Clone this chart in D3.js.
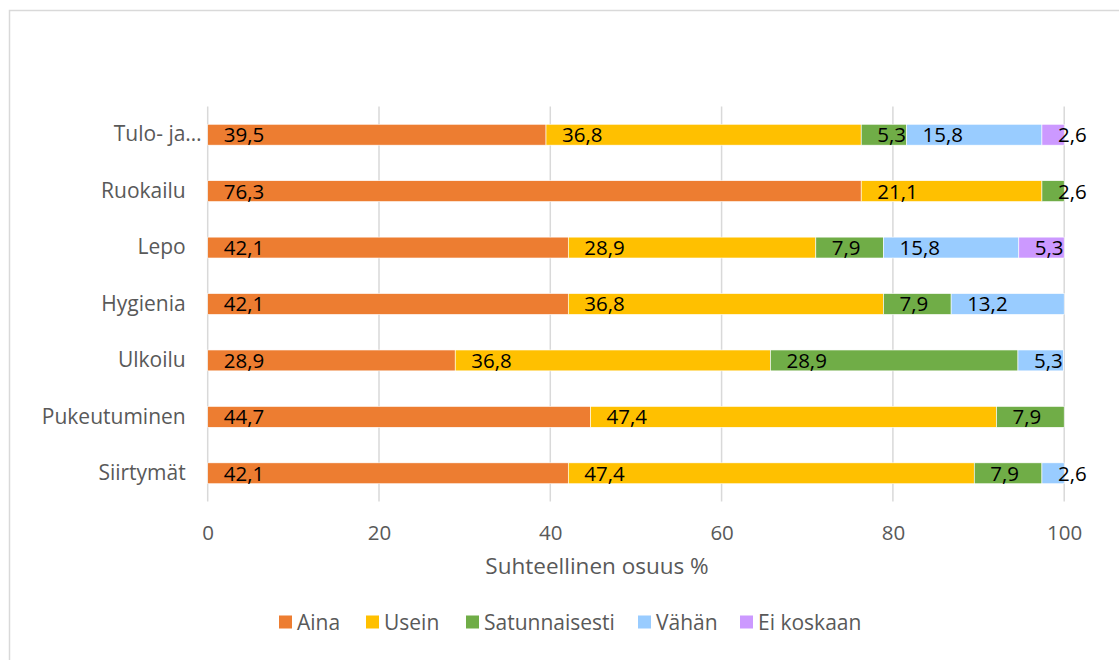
<!DOCTYPE html>
<html>
<head>
<meta charset="utf-8">
<script src="https://cdn.jsdelivr.net/npm/d3@7"></script>
<style>
  html, body { margin: 0; padding: 0; background: #fff; }
  svg { display: block; font-family: "Open Sans", "Noto Sans", sans-serif; }
</style>
</head>
<body>
<svg id="chart" width="1119" height="660"></svg>
<script>
const categories = ["Tulo- ja…", "Ruokailu", "Lepo", "Hygienia", "Ulkoilu", "Pukeutuminen", "Siirtymät"];
const seriesNames = ["Aina", "Usein", "Satunnaisesti", "Vähän", "Ei koskaan"];
const seriesColors = ["#ED7D31", "#FFC000", "#70AD47", "#99CCFF", "#CC99FF"];
const aina          = [39.5, 76.3, 42.1, 42.1, 28.9, 44.7, 42.1];
const usein         = [36.8, 21.1, 28.9, 36.8, 36.8, 47.4, 47.4];
const satunnaisesti = [5.3, 2.6, 7.9, 7.9, 28.9, 7.9, 7.9];
const vahan         = [15.8, 0, 15.8, 13.2, 5.3, 0, 2.6];
const eiKoskaan     = [2.6, 0, 5.3, 0, 0, 0, 0];
const xTicks = [0, 20, 40, 60, 80, 100];
const xTitle = "Suhteellinen osuus %";

const seriesValues = [aina, usein, satunnaisesti, vahan, eiKoskaan];
const rows = categories.map((c, i) => {
  const r = { cat: c };
  seriesNames.forEach((s, j) => r[s] = seriesValues[j][i]);
  return r;
});
const stacked = d3.stack().keys(seriesNames)(rows);

const svg = d3.select("#chart");
const axisColor = "#595959";

// chart border
svg.append("rect").attr("x", 9.5).attr("y", 10.5).attr("width", 1200).attr("height", 700)
  .attr("fill", "none").attr("stroke", "#D9D9D9").attr("stroke-width", 1.5);

const x = d3.scaleLinear().domain([0, 100]).range([207.7, 1064.2]);
const y = d3.scaleBand().domain(categories).range([106.5, 501.5]).paddingInner(0.63).paddingOuter(0.315);

// gridlines
svg.append("g").selectAll("line").data(xTicks).join("line")
  .attr("x1", d => x(d)).attr("x2", d => x(d))
  .attr("y1", 106.5).attr("y2", 501.5)
  .attr("stroke", "#D9D9D9").attr("stroke-width", 1.5);

// bars
const layers = svg.append("g").selectAll("g").data(stacked).join("g")
  .attr("fill", (d, i) => seriesColors[i]);
layers.selectAll("rect").data(d => d.filter(p => p[1] - p[0] > 0)).join("rect")
  .attr("x", d => x(d[0]))
  .attr("width", d => x(d[1]) - x(d[0]))
  .attr("y", d => y(d.data.cat))
  .attr("height", y.bandwidth())
  .attr("stroke", "#fff").attr("stroke-width", 0.6);

// data labels (inside base)
const fmt = v => String(v).replace(".", ",");
const labelG = svg.append("g");
stacked.forEach((layer, i) => {
  layer.forEach(p => {
    const v = p[1] - p[0];
    if (v <= 0) return;
    labelG.append("text")
      .attr("x", x(p[0]) + 16)
      .attr("y", y(p.data.cat) + y.bandwidth() / 2)
      .attr("dy", "0.36em")
      .attr("font-size", 20.5)
      .attr("fill", "#000")
      .text(fmt(seriesValues[i][categories.indexOf(p.data.cat)]));
  });
});

// y axis labels
const yAxis = d3.axisLeft(y).tickSize(0).tickPadding(22);
const yg = svg.append("g").attr("transform", `translate(${x(0)},0)`).call(yAxis);
yg.select(".domain").remove();
yg.selectAll("text").attr("font-size", 21).attr("fill", axisColor)
  .attr("font-family", "\"Open Sans\", sans-serif")
  .attr("dx", d => d.endsWith("…") ? 16 : 0);

// x axis labels
const xAxis = d3.axisBottom(x).tickValues(xTicks).tickSize(0).tickPadding(0).tickFormat(d => d);
const xg = svg.append("g").attr("transform", `translate(0,533)`).call(xAxis);
xg.select(".domain").remove();
xg.selectAll("text").attr("font-size", 20.5).attr("fill", axisColor).attr("dy", "0.36em").attr("y", 0)
  .attr("font-family", "\"Open Sans\", sans-serif");

// axis title
svg.append("text").attr("x", 597).attr("y", 566).attr("dy", "0.36em")
  .attr("text-anchor", "middle").attr("font-size", 22.5).attr("fill", axisColor).text(xTitle);

// legend
const legendPos = [279, 366, 466, 638, 740];
const lg = svg.append("g").selectAll("g").data(seriesNames).join("g")
  .attr("transform", (d, i) => `translate(${legendPos[i]},622)`);
lg.append("rect").attr("x", 0).attr("y", -6.5).attr("width", 13).attr("height", 13)
  .attr("fill", (d, i) => seriesColors[i]);
lg.append("text").attr("x", 18).attr("y", 0).attr("dy", "0.36em")
  .attr("font-size", 21).attr("fill", axisColor).text(d => d);
</script>
</body>
</html>
